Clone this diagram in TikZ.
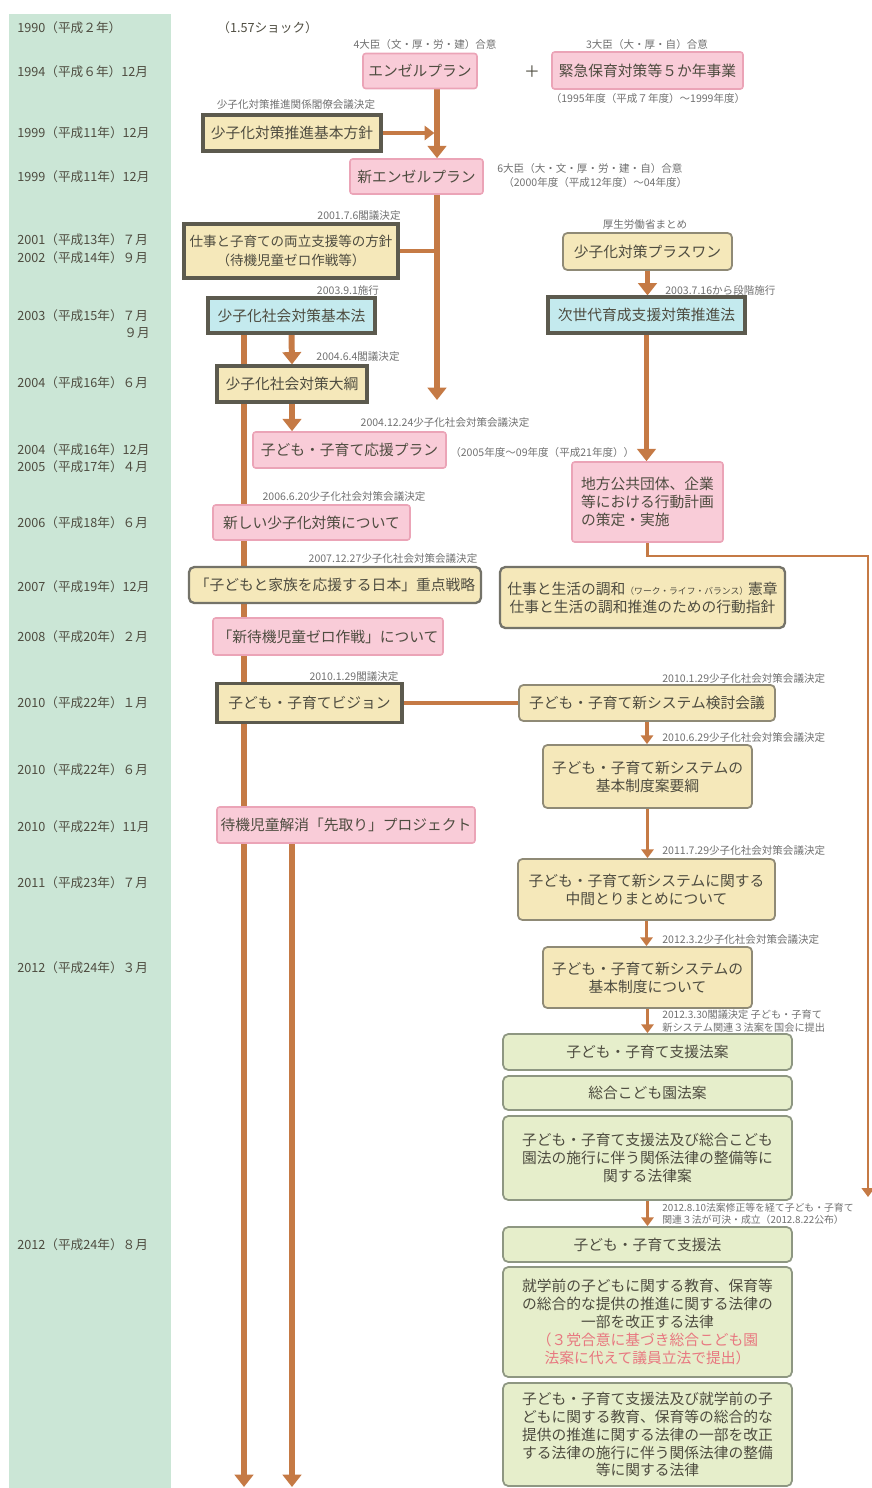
\documentclass[tikz,border=0pt]{standalone}
\usepackage{fontspec}
\setmainfont{Noto Sans CJK JP}
\usetikzlibrary{arrows.meta}
\definecolor{datebg}{HTML}{CBE6D6}
\definecolor{pinkfill}{HTML}{F9CCD8}
\definecolor{pinkline}{HTML}{EBA4B7}
\definecolor{yelfill}{HTML}{F5E8BA}
\definecolor{darkline}{HTML}{5C5A4E}
\definecolor{grayline}{HTML}{8F8A76}
\definecolor{cyanfill}{HTML}{C4EAEE}
\definecolor{grnfill}{HTML}{E6EECB}
\definecolor{grnline}{HTML}{8E9782}
\definecolor{flow}{HTML}{C57A45}
\definecolor{boxtext}{HTML}{4E4C40}
\definecolor{notetext}{HTML}{707070}
\definecolor{redtext}{HTML}{E87880}
\pgfdeclarelayer{back}
\pgfsetlayers{back,main}
\tikzset{wh/.style 2 args={minimum width=#1*0.02cm, minimum height=#2*0.02cm}}
\begin{document}
\begin{tikzpicture}[x=0.02cm, y=-0.02cm]
  %
  \tikzstyle{box} = [inner sep=0pt, align=center, text=boxtext, font=\fontsize{8.4}{10.2}\selectfont]
  \tikzstyle{pbox} = [box, fill=pinkfill, draw=pinkline, line width=0.9pt, rounded corners=1.5pt]
  \tikzstyle{ybold} = [box, fill=yelfill, draw=darkline, line width=1.8pt]
  \tikzstyle{yround} = [box, fill=yelfill, draw=darkline!85, line width=1.3pt, rounded corners=3pt]
  \tikzstyle{ythin} = [box, fill=yelfill, draw=grayline, line width=1pt, rounded corners=2.5pt]
  \tikzstyle{cbox} = [box, fill=cyanfill, draw=darkline, line width=1.8pt]
  \tikzstyle{gbox} = [box, fill=grnfill, draw=grnline, line width=1pt, rounded corners=3pt]
  \tikzstyle{note} = [inner sep=0pt, text=notetext, font=\fontsize{6}{7}\selectfont]
  \tikzstyle{date} = [inner sep=0pt, anchor=west, text=boxtext, font=\fontsize{7.2}{8}\selectfont]
  \tikzstyle{bigflow} = [draw=flow, line width=3.4pt, -{Triangle[width=10.5pt,length=7pt]}]
  \tikzstyle{midflow} = [draw=flow, line width=2.3pt, -{Triangle[width=8pt,length=5.5pt]}]
  \tikzstyle{smallflow} = [draw=flow, line width=1.8pt, -{Triangle[width=7pt,length=5pt]}]

  \useasboundingbox (0,0) rectangle (872,1488);
  \begin{pgfonlayer}{back}
    \fill[datebg] (9,14) rectangle (171,1488);
  \end{pgfonlayer}

  % years
  \foreach \y/\t [count=\i] in {28/1990（平成２年）, 72/1994（平成６年）12月,
      133/1999（平成11年）12月, 177/1999（平成11年）12月, 240/2001（平成13年）７月,
      258/2002（平成14年）９月, 316/2003（平成15年）７月, 383/2004（平成16年）６月,
      450/2004（平成16年）12月, 467/2005（平成17年）４月, 523/2006（平成18年）６月,
      587/2007（平成19年）12月, 637/2008（平成20年）２月, 703/2010（平成22年）１月,
      770/2010（平成22年）６月, 827/2010（平成22年）11月, 883/2011（平成23年）７月,
      968/2012（平成24年）３月, 1245/2012（平成24年）８月}
    \node[date] (date\i) at (17,\y) {\t};
  \node[date, anchor=east] (datesep) at (150,333) {９月};
  \node[date] (shock) at (217,28) {（1.57ショック）};

  % left column
  \node[pbox, wh={114}{35}] (angel) at (420,71) {エンゼルプラン};
  \node[note] (angelnote) at (425,44) {4大臣（文・厚・労・建）合意};
  \node[box, font=\fontsize{9}{10}\selectfont] (plus) at (532,72) {＋};
  \node[pbox, wh={191}{37}] (emergency) at (647.5,70.5) {緊急保育対策等５か年事業};
  \node[note] (emergnote) at (647,44) {3大臣（大・厚・自）合意};
  \node[note] (emergterm) at (648,98) {（1995年度（平成７年度）～1999年度）};
  \node[ybold, wh={178}{36}] (policy) at (292,133) {少子化対策推進基本方針};
  \node[note] (policynote) at (296,105) {少子化対策推進関係閣僚会議決定};
  \node[pbox, wh={133}{35}] (newangel) at (416.5,176.5) {新エンゼルプラン};
  \node[note, anchor=west] (newangelnote) at (497,168) {6大臣（大・文・厚・労・建・自）合意};
  \node[note, anchor=west] (newangelterm) at (503,182) {（2000年度（平成12年度）～04年度）};
  \node[ybold, wh={214}{54}, font=\fontsize{7.7}{10.5}\selectfont] (balance) at (291,251)
    {仕事と子育ての両立支援等の方針\\（待機児童ゼロ作戦等）};
  \node[note] (balancenote) at (359,216) {2001.7.6閣議決定};
  \node[cbox, wh={167}{35}] (basiclaw) at (291.5,315.5) {少子化社会対策基本法};
  \node[note] (basiclawnote) at (348,290) {2003.9.1施行};
  \node[ybold, wh={150}{36}] (outline) at (292,384) {少子化社会対策大綱};
  \node[note] (outlinenote) at (358,357) {2004.6.4閣議決定};
  \node[pbox, wh={193}{36}] (support) at (349.5,450) {子ども・子育て応援プラン};
  \node[note] (supportnote) at (445,423) {2004.12.24少子化社会対策会議決定};
  \node[note, anchor=west] (supportterm) at (450,452) {（2005年度～09年度（平成21年度））};
  \node[pbox, wh={197}{35}] (newmeasure) at (311.5,522.5) {新しい少子化対策について};
  \node[note] (newmeasurenote) at (344,497) {2006.6.20少子化社会対策会議決定};
  \node[yround, wh={292}{36}] (strategy) at (335,585) {「子どもと家族を応援する日本」重点戦略};
  \node[note] (strategynote) at (393,559) {2007.12.27少子化社会対策会議決定};
  \node[pbox, wh={230}{37}] (zero) at (328,636.5) {「新待機児童ゼロ作戦」について};
  \node[ybold, wh={185}{39}] (vision) at (309.5,703) {子ども・子育てビジョン};
  \node[note] (visionnote) at (354,677) {2010.1.29閣議決定};
  \node[pbox, wh={258}{36}] (headstart) at (346,825) {待機児童解消「先取り」プロジェクト};

  % right column
  \node[ythin, wh={169}{37}] (plusone) at (647.5,251.5) {少子化対策プラスワン};
  \node[note] (plusonenote) at (645,225) {厚生労働省まとめ};
  \node[cbox, wh={197}{36}] (nextgen) at (646.5,315) {次世代育成支援対策推進法};
  \node[note, anchor=west] (nextgennote) at (665,290) {2003.7.16から段階施行};
  \node[pbox, wh={151}{80}, align=left] (local) at (647.5,502)
    {地方公共団体、企業\\等における行動計画\\の策定・実施};
  \node[yround, wh={285}{61}] (wlb) at (642.5,597.5)
    {仕事と生活の調和{\fontsize{5}{6}\selectfont（ワーク・ライフ・バランス）}憲章\\仕事と生活の調和推進のための行動指針};
  \node[ythin, wh={256}{36}] (council) at (647,703) {子ども・子育て新システム検討会議};
  \node[note, anchor=west] (councilnote) at (662,679) {2010.1.29少子化社会対策会議決定};
  \node[ythin, wh={209}{63}] (draft) at (647.5,776.5) {子ども・子育て新システムの\\基本制度案要綱};
  \node[note, anchor=west] (draftnote) at (662,738) {2010.6.29少子化社会対策会議決定};
  \node[ythin, wh={257}{61}] (interim) at (646.5,889.5) {子ども・子育て新システムに関する\\中間とりまとめについて};
  \node[note, anchor=west] (interimnote) at (662,851) {2011.7.29少子化社会対策会議決定};
  \node[ythin, wh={209}{61}] (basicsys) at (647.5,977.5) {子ども・子育て新システムの\\基本制度について};
  \node[note, anchor=west] (basicsysnote) at (662,940) {2012.3.2少子化社会対策会議決定};
  \node[note, anchor=west, align=left, font=\fontsize{5.8}{7}\selectfont] (billnote) at (662,1021)
    {2012.3.30閣議決定 子ども・子育て\\新システム関連３法案を国会に提出};
  \node[gbox, wh={289}{36}] (billA) at (647.5,1052) {子ども・子育て支援法案};
  \node[gbox, wh={289}{34}] (billB) at (647.5,1093) {総合こども園法案};
  \node[gbox, wh={289}{84}] (billC) at (647.5,1158)
    {子ども・子育て支援法及び総合こども\\園法の施行に伴う関係法律の整備等に\\関する法律案};
  \node[note, anchor=west, align=left, font=\fontsize{5.6}{7}\selectfont] (actnote) at (662,1214)
    {2012.8.10法案修正等を経て子ども・子育て\\関連３法が可決・成立（2012.8.22公布）};
  \node[gbox, wh={289}{35}] (actA) at (647.5,1244.5) {子ども・子育て支援法};
  \node[gbox, wh={289}{110}] (actB) at (647.5,1322)
    {就学前の子どもに関する教育、保育等\\の総合的な提供の推進に関する法律の\\一部を改正する法律\\
     \textcolor{redtext}{（３党合意に基づき総合こども園}\\\textcolor{redtext}{法案に代えて議員立法で提出）}};
  \node[gbox, wh={289}{103}] (actC) at (647.5,1434.5)
    {子ども・子育て支援法及び就学前の子\\どもに関する教育、保育等の総合的な\\提供の推進に関する法律の一部を改正\\する法律の施行に伴う関係法律の整備\\等に関する法律};

  % connectors
  \coordinate (trunk) at (437,400);
  \coordinate (leftend) at (244,1487);
  \coordinate (rightend) at (292,1487);
  \coordinate (loopturn) at (868,556);
  \coordinate (loopend) at (868,1197);
  \begin{pgfonlayer}{back}
    \draw[bigflow] (angel.south -| trunk) -- (newangel.north -| trunk);
    \draw[midflow, shorten >=1.5pt] (policy.east) -- (policy.east -| trunk);
    \draw[bigflow] (newangel.south -| trunk) -- (trunk);
    \draw[draw=flow, line width=2.3pt] (balance.east) -- (balance.east -| trunk);
    \draw[bigflow] (basiclaw.south -| leftend) -- (leftend);
    \draw[bigflow] (basiclaw.south) -- (outline.north);
    \draw[bigflow] (outline.south) -- (outline.south |- support.north);
    \draw[bigflow] (headstart.south -| rightend) -- (rightend);
    \draw[bigflow] (plusone.south) -- (plusone.south |- nextgen.north);
    \draw[bigflow] (nextgen.south) -- (nextgen.south |- local.north);
    \draw[smallflow, line width=1.5pt] (local.south) |- (loopturn) -- (loopend);
    \draw[draw=flow, line width=1.8pt] (vision.east) -- (vision.east -| council.west);
    \draw[smallflow] (council.south) -- (council.south |- draft.north);
    \draw[smallflow] (draft.south) -- (draft.south |- interim.north);
    \draw[smallflow] (interim.south) -- (interim.south |- basicsys.north);
    \draw[smallflow] (basicsys.south) -- (basicsys.south |- billA.north);
    \draw[smallflow] (billC.south) -- (billC.south |- actA.north);
  \end{pgfonlayer}
\end{tikzpicture}
\end{document}
